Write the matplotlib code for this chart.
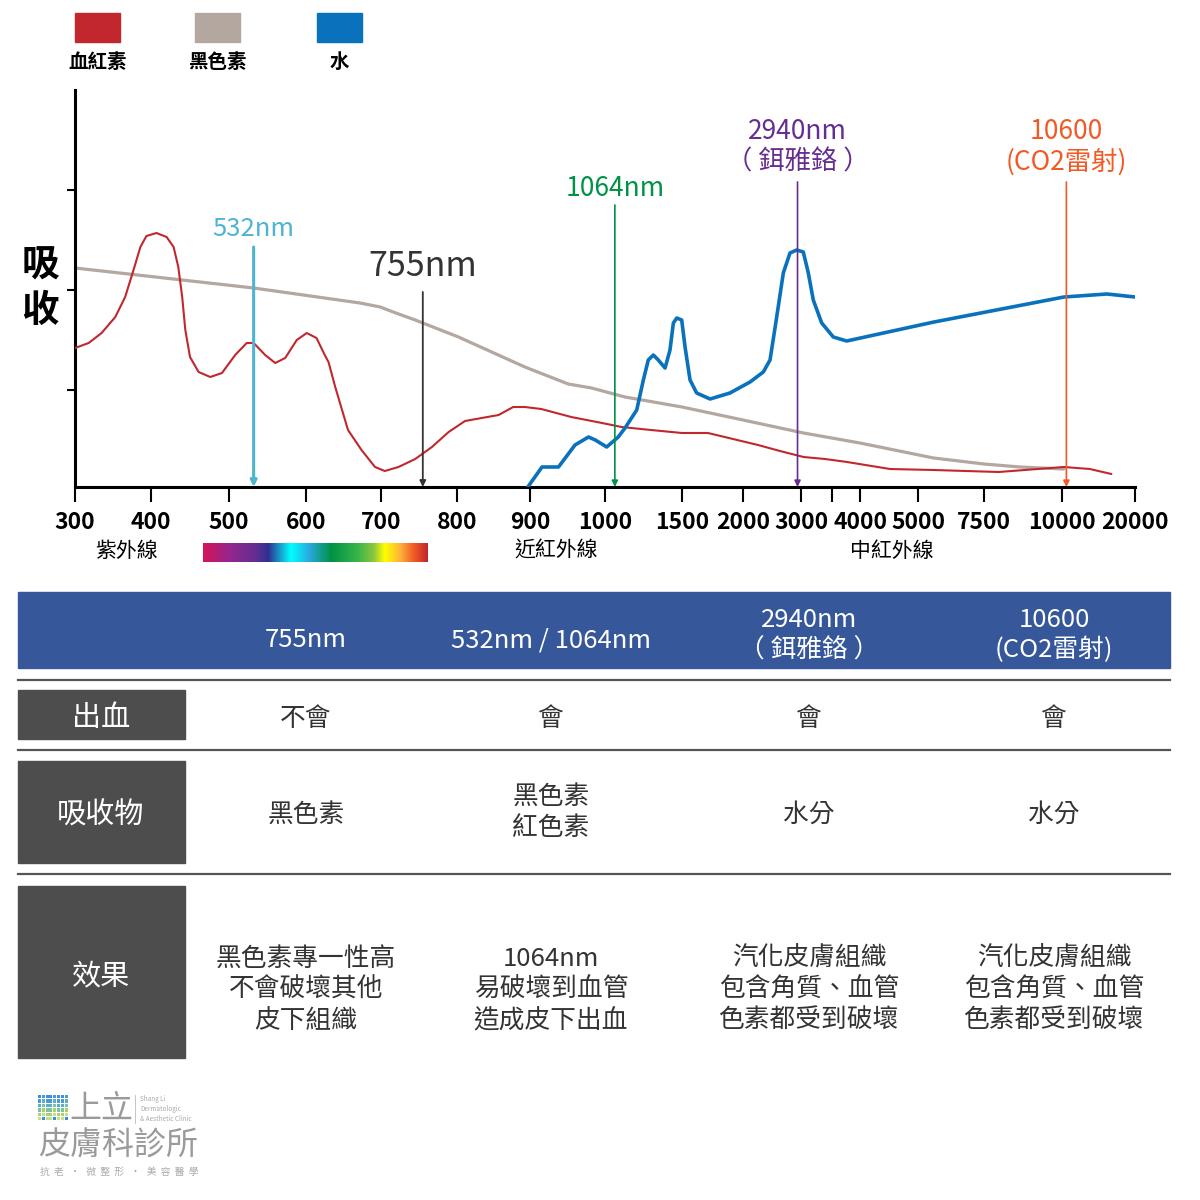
import numpy as np
import matplotlib
matplotlib.use('Agg')
import matplotlib.pyplot as plt
from matplotlib.colors import LinearSegmentedColormap
from matplotlib.patches import Rectangle

plt.rcParams['font.family'] = ['Noto Sans CJK TC', 'DejaVu Sans']

# ---- data (absorbance in arbitrary units) ----
hb_wl = [300, 318, 335, 353, 366, 377, 386, 394, 407, 420, 429, 435, 440, 444, 450, 461,
         476, 491, 508, 523, 532, 547, 560, 573, 588, 601, 614, 625, 630, 639, 656, 674,
         692, 705, 723, 745, 767, 789, 811, 834, 857, 877, 893, 915, 955, 996, 1108, 1299,
         1500, 1713, 2259, 2638, 3040, 3387, 3768, 4517, 5591, 7971, 10233, 13808, 16767]
hb_abs = [139, 144, 154, 170, 190, 217, 240, 251, 254, 250, 240, 220, 190, 157, 130, 115,
          110, 114, 132, 144, 144, 132, 124, 129, 147, 154, 149, 132, 125, 100, 57, 37,
          20, 16, 20, 28, 40, 55, 66, 69, 72, 80, 80, 78, 70, 64, 60, 57,
          54, 54, 42, 36, 30, 28, 25, 18, 17, 15, 20, 18, 13]

mel_wl = [300, 532, 672, 699, 716, 745, 802, 893, 951, 982, 1130, 1500, 2000, 3040, 4000,
          5591, 7500, 8654, 10233]
mel_abs = [219, 199, 184, 180, 175, 167, 150, 120, 103, 99, 90, 80, 67, 54, 44,
           29, 23, 20, 18]

water_wl = [897, 916, 938, 960, 978, 987, 1011, 1086, 1130, 1206, 1249, 1281, 1314, 1346,
            1390, 1422, 1444, 1466, 1498, 1525, 1566, 1620, 1730, 1893, 2121, 2350, 2466,
            2581, 2695, 2810, 2926, 3037, 3118, 3198, 3334, 3523, 3762, 5606, 10274, 16164,
            20000]
water_abs = [0, 20, 20, 42, 50, 47, 40, 50, 59, 77, 107, 127, 132, 127,
             119, 137, 164, 169, 167, 140, 107, 94, 88, 94, 105, 115, 127,
             170, 214, 234, 237, 235, 214, 187, 164, 150, 146, 165, 190, 193,
             190]

tick_wl = [300, 400, 500, 600, 700, 800, 900, 1000, 1500, 2000, 3000, 3500, 4000, 5000,
           7500, 10000, 20000]
tick_labels = ['300', '400', '500', '600', '700', '800', '900', '1000', '1500', '2000',
               '3000', '', '4000', '5000', '7500', '10000', '20000']
# where each tick sits along the axis (non-uniform scale)
tick_pos = [75, 151, 229, 306, 381, 457, 530, 605, 682, 743, 801, 832, 860, 918, 984,
            1062, 1135]

lasers = [532, 755, 1064, 2940, 10600]
laser_labels = ['532nm', '755nm', '1064nm', '2940nm\n（ 鉺雅鉻 ）', '10600\n(CO2雷射)']
laser_colors = ['#4FB4CF', '#333333', '#009245', '#662D91', '#F15A24']

legend_names = ['血紅素', '黑色素', '水']
red, grey, blue = '#C1272D', '#B3A79F', '#0A72BD'

col_heads = ['755nm', '532nm / 1064nm', '2940nm\n（ 鉺雅鉻 ）', '10600\n(CO2雷射)']
row_heads = ['出血', '吸收物', '效果']
cells = [
    ['不會', '會', '會', '會'],
    ['黑色素', '黑色素\n紅色素', '水分', '水分'],
    ['黑色素專一性高\n不會破壞其他\n皮下組織', '1064nm\n易破壞到血管\n造成皮下出血',
     '汽化皮膚組織\n包含角質、血管\n色素都受到破壞', '汽化皮膚組織\n包含角質、血管\n色素都受到破壞'],
]

fig = plt.figure(figsize=(12, 12), dpi=100)

# background axes in pixel coords for the table / legend / logo
bg = fig.add_axes([0, 0, 1, 1])
bg.set_xlim(0, 1200)
bg.set_ylim(1200, 0)
bg.axis('off')

# ---- main absorption chart ----
ax = fig.add_axes([75 / 1200, (1200 - 487) / 1200, 1060 / 1200, 397 / 1200])
ax.patch.set_alpha(0)
fwd = lambda w: np.interp(w, tick_wl, tick_pos)
inv = lambda p: np.interp(p, tick_pos, tick_wl)
ax.set_xscale('function', functions=(fwd, inv))
ax.set_xlim(300, 20000)
ax.set_ylim(0, 397)

ax.plot(mel_wl, mel_abs, color=grey, lw=2.3, solid_capstyle='round', solid_joinstyle='round', zorder=2)
ax.plot(hb_wl, hb_abs, color=red, lw=1.5, solid_capstyle='round', solid_joinstyle='round', zorder=3)
ax.plot(water_wl, water_abs, color=blue, lw=2.6, solid_capstyle='round', solid_joinstyle='round', zorder=4)

arrow_top = [240, 195, 282, 305, 305]
arrow_lw = [2.2, 1.3, 1.2, 1.2, 1.2]
label_y = [258, 220, 298, 340, 340]
label_size = [18.5, 24.5, 19, 19, 19]
for wl, lab, c, top, lw, ly, fs in zip(lasers, laser_labels, laser_colors, arrow_top,
                                       arrow_lw, label_y, label_size):
    ax.annotate('', xy=(wl, 0), xytext=(wl, top),
                arrowprops=dict(arrowstyle='-|>', color=c, lw=lw, shrinkA=0, shrinkB=0,
                                mutation_scale=9), zorder=5)
    ax.text(wl, ly, lab, color=c, fontsize=fs, ha='center', va='center',
            linespacing=1.15, zorder=6)

for s in ['top', 'right']:
    ax.spines[s].set_visible(False)
for s in ['left', 'bottom']:
    ax.spines[s].set_linewidth(2.2)
ax.set_xticks(tick_wl)
ax.set_xticklabels(tick_labels, fontsize=16.5, fontweight='bold')
ax.tick_params(axis='x', length=11, width=1.5, pad=6)
ax.set_yticks([97, 197, 297])
ax.set_yticklabels([])
ax.tick_params(axis='y', length=6, width=1.5)
ax.minorticks_off()

bg.text(40, 287, '吸\n收', fontsize=27, fontweight='bold', ha='center', va='center',
        linespacing=1.25)

# region names under the axis
bg.text(127, 551, '紫外線', fontsize=15, ha='center', va='center')
bg.text(556, 551, '近紅外線', fontsize=15, ha='center', va='center')
bg.text(892, 551, '中紅外線', fontsize=15, ha='center', va='center')

# visible spectrum strip
spec = LinearSegmentedColormap.from_list('spec', [
    (0.0, '#D4145A'), (0.12, '#93278F'), (0.23, '#662D91'), (0.29, '#2E3192'),
    (0.39, '#00FFFF'), (0.47, '#29ABE2'), (0.57, '#009245'), (0.69, '#39B54A'),
    (0.76, '#8CC63F'), (0.81, '#FFFF00'), (0.88, '#FBB03B'), (0.94, '#F15A24'),
    (1.0, '#C1272D')])
sax = fig.add_axes([203 / 1200, (1200 - 562) / 1200, 225 / 1200, 19 / 1200])
sax.imshow(np.linspace(0, 1, 256)[None, :], cmap=spec, aspect='auto')
sax.axis('off')

# legend
for x0, name, c in zip([75, 195, 317], legend_names, [red, grey, blue]):
    bg.add_patch(Rectangle((x0, 13), 45, 29, color=c))
    bg.text(x0 + 22.5, 62, name, fontsize=14, fontweight='bold', ha='center', va='center')

# ---- table ----
col_x = [306, 551, 809, 1054]
bg.add_patch(Rectangle((18, 592), 1152, 76, color='#36579A'))
for x, h in zip(col_x, col_heads):
    yy = 640 if '\n' not in h else 635
    bg.text(x, yy, h, color='white', fontsize=18.5, ha='center', va='center', linespacing=1.22)

for y in [680, 750, 874]:
    bg.plot([18, 1170], [y, y], color='#555555', lw=1.6)

boxes = [(690, 49), (761, 102), (886, 172)]
text_y = [719, 815, 990]
for (y0, hh), rh, row, ty in zip(boxes, row_heads, cells, text_y):
    bg.add_patch(Rectangle((18, y0), 167, hh, color='#4D4D4D'))
    bg.text(101, y0 + hh / 2 + 4, rh, color='white', fontsize=21, ha='center', va='center')
    for x, t in zip(col_x, row):
        dy = -3 if t.count('\n') == 1 else 0
        bg.text(x, ty + dy, t, color='#333333', fontsize=18.5,
                ha='center', va='center', linespacing=1.26)

# ---- clinic logo ----
gcols = ['#3B8ED8', '#4A9AD6', '#5BB0C8', '#7CC2A8', '#A8D36A', '#C4DE8A']
for r in range(6):
    for c in range(8):
        bg.add_patch(Rectangle((38 + c * 3.8, 1095 + r * 4.4), 3.0, 3.4,
                               color=gcols[(r + (c % 3 == 1)) % 6], lw=0))
bg.text(101, 1109, '上立', fontsize=23, color='#9A9A9A', fontweight='light',
        ha='center', va='center')
bg.plot([135, 135], [1095, 1123], color='#BBBBBB', lw=0.6)
bg.text(140, 1109, 'Shang Li\nDermatologic\n& Aesthetic Clinic', fontsize=4.6, color='#AAAAAA',
        ha='left', va='center', linespacing=1.3)
bg.text(118, 1145, '皮膚科診所', fontsize=23, color='#9A9A9A', fontweight='light',
        ha='center', va='center')
bg.text(119, 1172, '抗  老   ‧   微  整  形   ‧   美  容  醫  學', fontsize=7, color='#AAAAAA',
        ha='center', va='center')

fig.savefig('out.png', dpi=100, facecolor='white')
